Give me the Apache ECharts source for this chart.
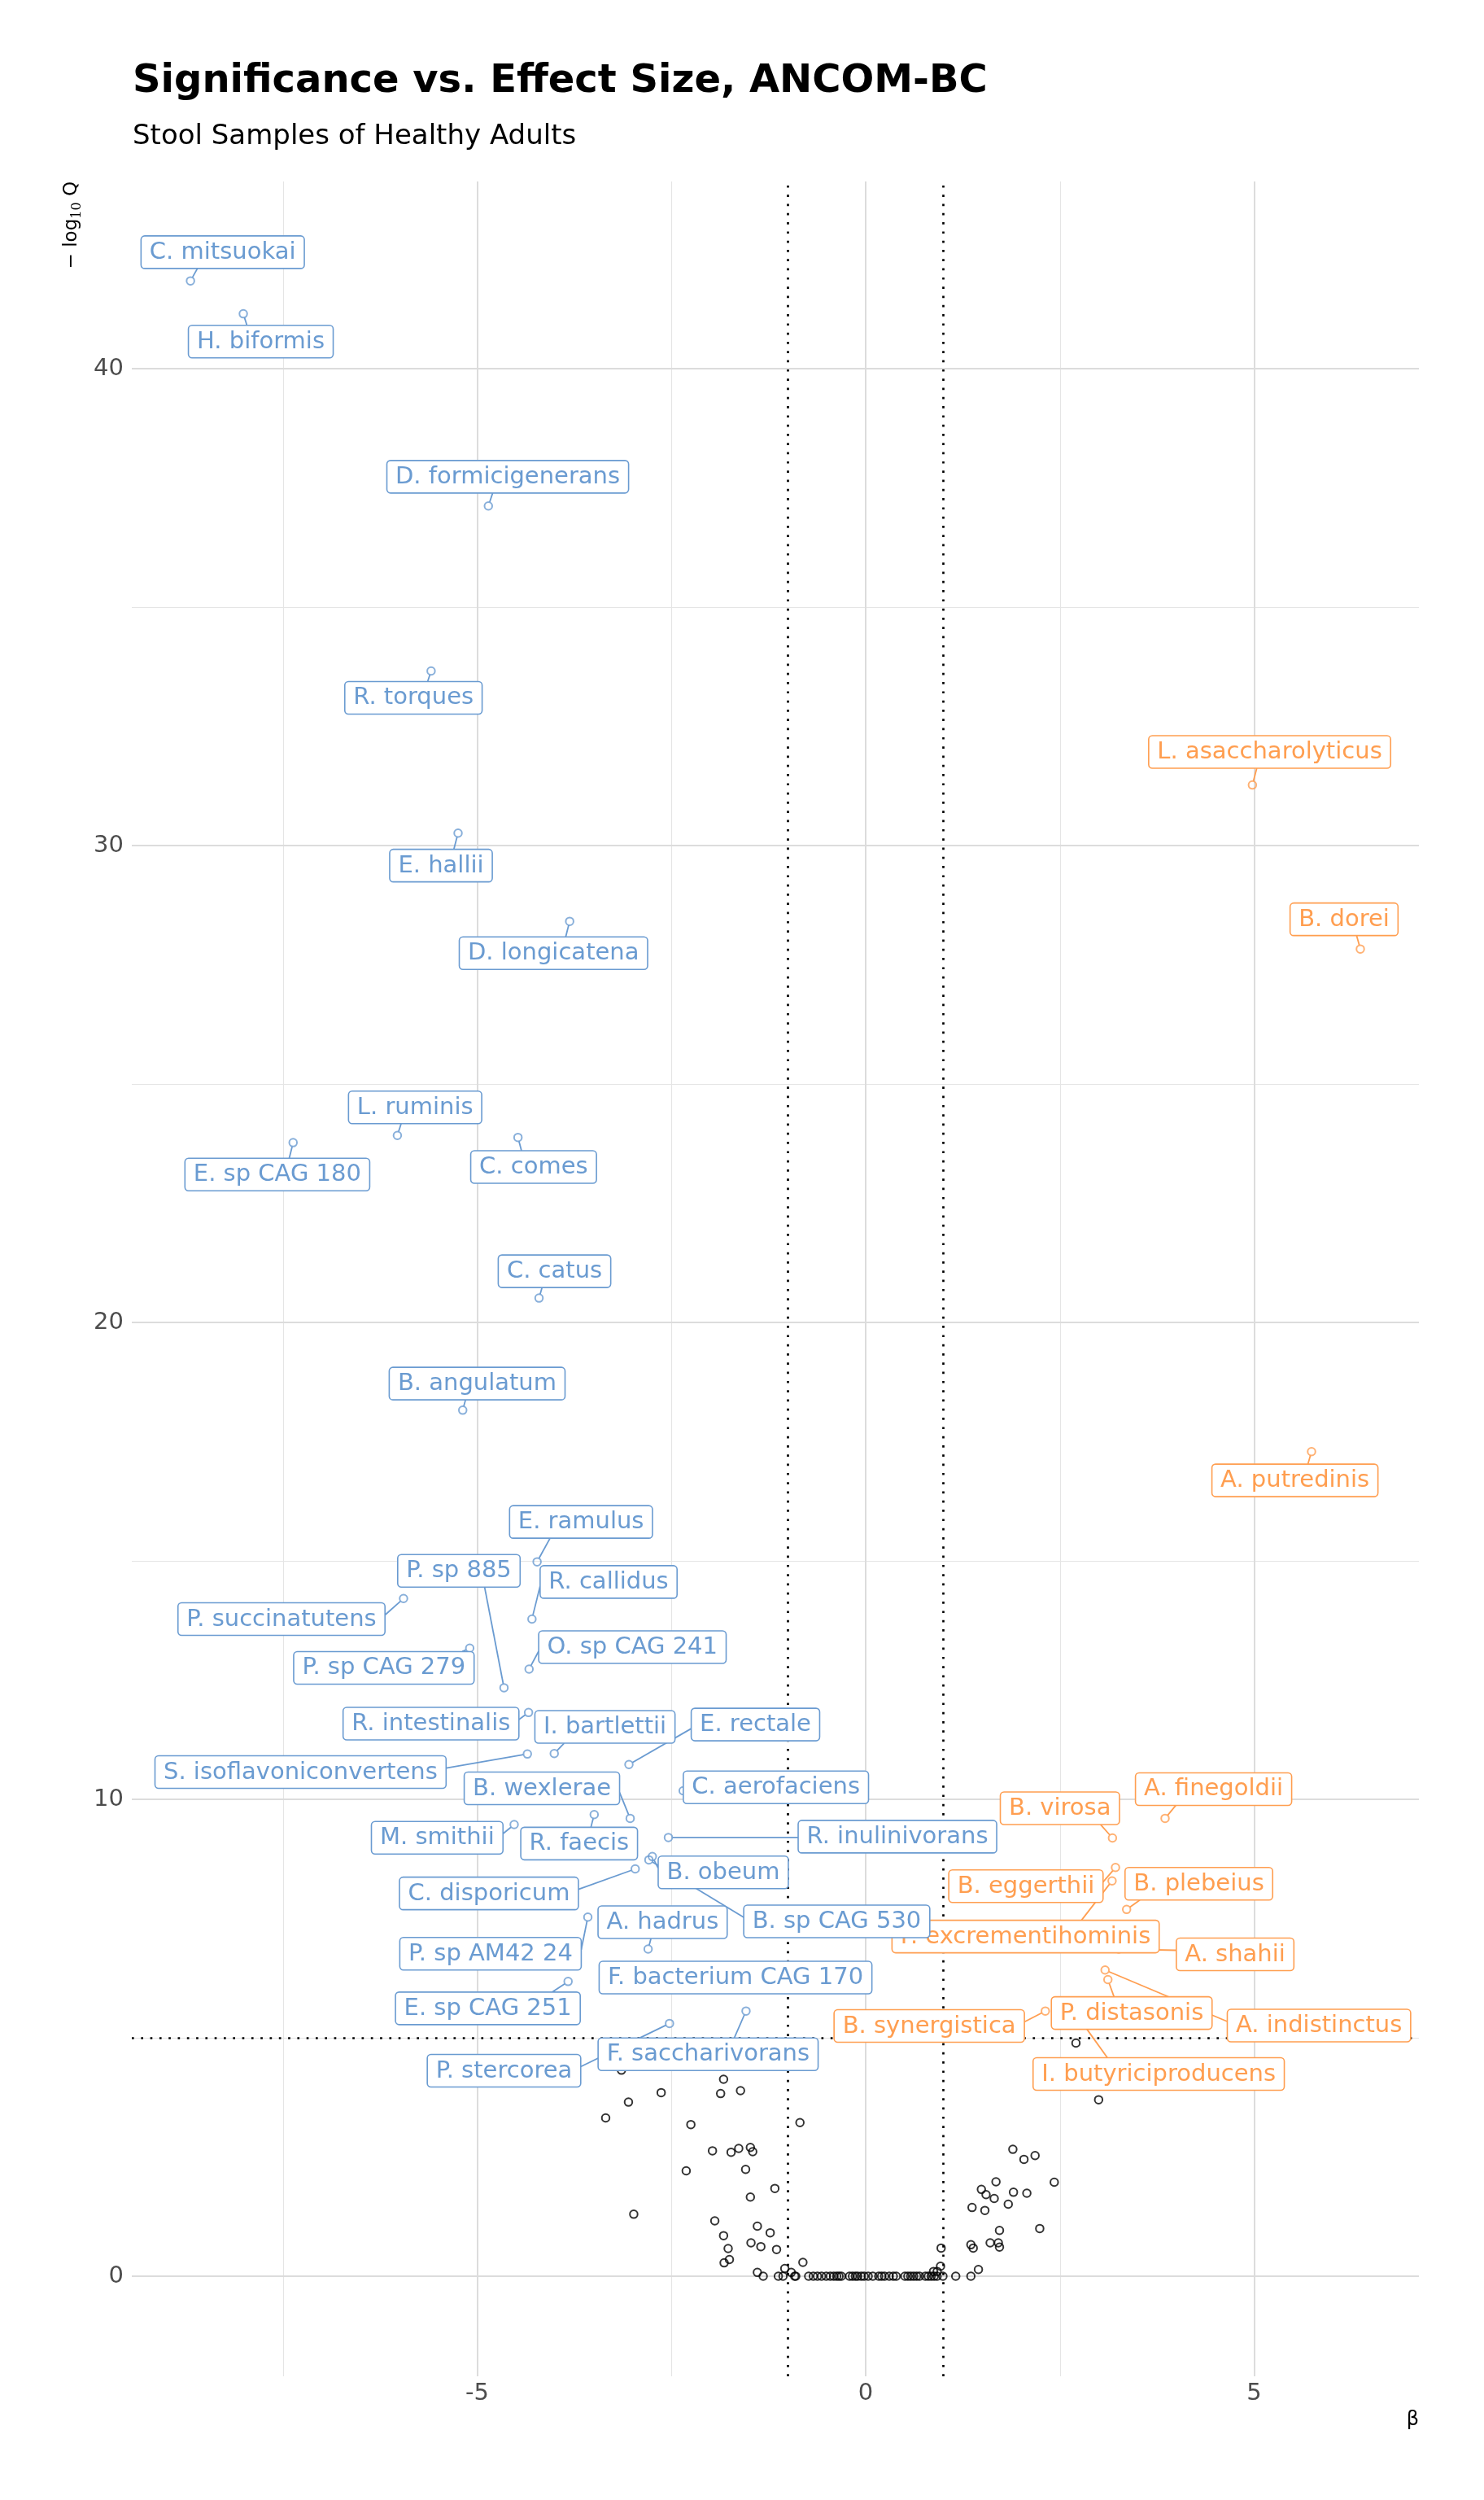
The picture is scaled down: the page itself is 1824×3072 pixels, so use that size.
<!DOCTYPE html>
<html>
<head>
<meta charset="utf-8">
<script src="https://cdn.jsdelivr.net/npm/echarts@6/dist/echarts.min.js"></script>
<style>
html,body{margin:0;padding:0;background:#fff;}
#chart{width:1824px;height:3072px;}
</style>
</head>
<body>
<div id="chart"></div>
<script>
// ---------------- data ----------------
const titleText = 'Significance vs. Effect Size, ANCOM-BC';
const subtitleText = 'Stool Samples of Healthy Adults';

const blueNames = [
  'C. mitsuokai','H. biformis','D. formicigenerans','R. torques','E. hallii',
  'D. longicatena','L. ruminis','E. sp CAG 180','C. comes','C. catus',
  'B. angulatum','E. ramulus','P. sp 885','R. callidus','P. succinatutens',
  'P. sp CAG 279','O. sp CAG 241','R. intestinalis','I. bartlettii','E. rectale',
  'S. isoflavoniconvertens','B. wexlerae','C. aerofaciens','M. smithii','R. faecis',
  'R. inulinivorans','B. obeum','B. sp CAG 530','C. disporicum','A. hadrus',
  'P. sp AM42 24','F. bacterium CAG 170','E. sp CAG 251','P. stercorea','F. saccharivorans'
];
const blueBeta = [
  -8.69, -8.01, -4.856, -5.593, -5.246,
  -3.81, -6.027, -7.369, -4.475, -4.204,
  -5.186, -4.229, -4.655, -4.295, -5.948,
  -5.096, -4.332, -4.339, -4.008, -3.047,
  -4.354, -3.031, -2.349, -4.524, -3.494,
  -2.539, -2.746, -2.79, -2.966, -2.80,
  -3.576, -2.45, -3.83, -2.525, -1.54
];
const blueNegLogQ = [
  41.84, 41.15, 37.12, 33.66, 30.26,
  28.41, 23.92, 23.77, 23.88, 20.51,
  18.16, 14.98, 12.34, 13.78, 14.21,
  13.17, 12.73, 11.82, 10.96, 10.73,
  10.95, 9.60, 10.18, 9.47, 9.68,
  9.20, 8.80, 8.73, 8.54, 6.86,
  7.53, 6.15, 6.18, 5.30, 5.56
];

const orangeNames = [
  'L. asaccharolyticus','B. dorei','A. putredinis','A. finegoldii','B. virosa',
  'B. eggerthii','F. excrementihominis','B. plebeius','A. shahii','P. distasonis',
  'A. indistinctus','B. synergistica','I. butyriciproducens'
];
const orangeBeta = [
  4.977, 6.366, 5.738, 3.853, 3.176,
  3.215, 3.171, 3.358, 3.257, 3.117,
  3.081, 2.312, 2.75
];
const orangeNegLogQ = [
  31.27, 27.83, 17.29, 9.60, 9.19,
  8.57, 8.29, 7.69, 6.86, 6.22,
  6.42, 5.56, 5.40
];

// not significant / small effect taxa
const otherBeta = [
  2.706, 2.998,
  -3.143, -1.829, -1.867, -1.611, -2.632, -3.053, -3.346, -2.25, -0.846,
  -1.972, -1.732, -1.634, -1.484, -1.454, -2.31, -1.545, -1.169, -1.484,
  -2.985, -1.942, -1.394, -1.229, -1.829, -1.476, -1.349, -1.77, -1.147,
  -1.754, -1.822, -0.808, -1.394, -1.041, -0.958,
  1.894, 2.18, 2.037, 2.427, 1.677, 1.489, 1.549, 1.902, 2.074, 1.654,
  1.369, 1.534, 1.835, 2.24, 1.722, 1.354, 1.384, 1.602, 1.707, 1.722,
  0.971, 0.963, 1.451, 0.873, 0.92,
  -1.319, -1.124, -1.064, -0.914, -0.90, -0.734, -0.674, -0.621, -0.568, -0.508,
  -0.456, -0.411, -0.373, -0.343, -0.313, -0.208, -0.170, -0.133, -0.103, -0.058,
  -0.020, 0.032, 0.092, 0.168, 0.205, 0.243, 0.303, 0.355, 0.393, 0.505,
  0.543, 0.580, 0.618, 0.656, 0.693, 0.768, 0.806, 0.843, 0.881, 0.919,
  0.994, 1.159, 1.354
];
const otherNegLogQ = [
  4.89, 3.70,
  4.32, 4.13, 3.83, 3.89, 3.85, 3.65, 3.32, 3.18, 3.22,
  2.63, 2.60, 2.68, 2.70, 2.61, 2.21, 2.24, 1.84, 1.66,
  1.30, 1.16, 1.05, 0.91, 0.85, 0.70, 0.62, 0.58, 0.56,
  0.35, 0.28, 0.29, 0.08, 0.16, 0.08,
  2.66, 2.53, 2.45, 1.97, 1.98, 1.82, 1.71, 1.76, 1.74, 1.63,
  1.44, 1.38, 1.51, 1.00, 0.96, 0.66, 0.59, 0.70, 0.70, 0.61,
  0.59, 0.21, 0.14, 0.10, 0.10,
  0, 0, 0, 0, 0, 0, 0, 0, 0, 0,
  0, 0, 0, 0, 0, 0, 0, 0, 0, 0,
  0, 0, 0, 0, 0, 0, 0, 0, 0, 0,
  0, 0, 0, 0, 0, 0, 0, 0, 0, 0,
  0, 0, 0
];

const xTicks = [-5, 0, 5];
const xMinorTicks = [-7.5, -2.5, 2.5];
const yTicks = [0, 10, 20, 30, 40];
const yMinorTicks = [5, 15, 25, 35];
const betaCutoffs = [-1, 1];
const negLogQCutoff = 5;

// ---------------- layout (label centre offsets from their points, px) ----------------
const blueLabelOffsets = [
  [39.6,-35.3],[21.5,34.2],[23.8,-35.9],[-21.7,32.9],[-21,39.9],
  [-19.9,39],[21.8,-34.6],[-19.4,39.2],[19.2,36.4],[19,-33],
  [17.7,-32.7],[54,-49],[-55.4,-143.7],[94.2,-45.6],[-150,25.2],
  [-105.5,24.2],[127,-27],[-119.9,13.6],[62.3,-32.7],[155.5,-49.1],
  [-278.8,22.2],[-108.5,-36.9],[114,-4.2],[-94.6,16.2],[-18.5,35.6],
  [281.5,-1],[87.2,19.4],[230.9,75.6],[-179.8,30.1],[17.8,-33],
  [-119.6,45],[74,-6.6],[-98.6,33],[-203.4,58.1],[-46.6,53.1]
];
const orangeLabelOffsets = [
  [21.2,-40.6],[-20,-36.5],[-20.4,35.3],[59.6,-36],[-64.6,-36.4],
  [-110.1,22.9],[-106.3,68.4],[88.8,-31.6],[143,6.5],[29.3,41.1],
  [262.9,68.2],[-142.7,18.3],[97.5,68]
];

const BLUE = '#6A9BD1';
const ORANGE = '#FF9E50';
const FONT = '"DejaVu Sans"';
const LABEL_FONT_SIZE = 29;
const PADX = 10.5;
const BOXH = 40;
const PT_R = 5;

const measureCtx = document.createElement('canvas').getContext('2d');
measureCtx.font = LABEL_FONT_SIZE + 'px ' + FONT;
function boxW(s) { return measureCtx.measureText(s).width + 2 * PADX; }

function connection(px, py, cx, cy, w, h) {
  const x1 = cx - w / 2, x2 = cx + w / 2, y1 = cy - h / 2, y2 = cy + h / 2;
  if (px >= x1 && px <= x2 && py >= y1 && py <= y2) return null;
  let ex, ey;
  if (px < x1 || px > x2) {
    ex = px < x1 ? x1 : x2;
    ey = cy + Math.max(-5, Math.min(5, py - cy));
  } else {
    ey = py < y1 ? y1 : y2;
    const t = (ey - py) / (cy - py);
    const xc = px + t * (cx - px);
    ex = (px + xc) / 2;
  }
  return [ex, ey];
}

function segmentRenderer(names, offsets, color) {
  return function (params, api) {
    const i = api.value(2);
    const p = api.coord([api.value(0), api.value(1)]);
    const cx = p[0] + offsets[i][0], cy = p[1] + offsets[i][1];
    const e = connection(p[0], p[1], cx, cy, boxW(names[i]), BOXH);
    if (!e) return null;
    const dx = e[0] - p[0], dy = e[1] - p[1];
    const d = Math.sqrt(dx * dx + dy * dy);
    if (d <= PT_R + 1) return null;
    const sx = p[0] + dx / d * PT_R, sy = p[1] + dy / d * PT_R;
    return {
      type: 'line',
      shape: { x1: sx, y1: sy, x2: e[0], y2: e[1] },
      style: { stroke: color, lineWidth: 1.8 }
    };
  };
}

function labelRenderer(names, offsets, color) {
  return function (params, api) {
    const i = api.value(2);
    const p = api.coord([api.value(0), api.value(1)]);
    const cx = p[0] + offsets[i][0], cy = p[1] + offsets[i][1];
    const w = boxW(names[i]);
    return {
      type: 'group',
      children: [
        { type: 'rect', shape: { x: cx - w / 2, y: cy - BOXH / 2, width: w, height: BOXH, r: 4.5 },
          style: { fill: '#ffffff', stroke: color, lineWidth: 1.6 } },
        { type: 'text', x: cx, y: cy + 0.5,
          style: { text: names[i], fill: color, font: LABEL_FONT_SIZE + 'px ' + FONT,
                   align: 'center', verticalAlign: 'middle' } }
      ]
    };
  };
}

function zip(xs, ys) { return xs.map((x, i) => [x, ys[i], i]); }

const blueData = zip(blueBeta, blueNegLogQ);
const orangeData = zip(orangeBeta, orangeNegLogQ);
const otherData = zip(otherBeta, otherNegLogQ);

const gridLines = [];
xMinorTicks.forEach(v => gridLines.push({ xAxis: v, lineStyle: { color: '#E5E5E5', width: 1.2, type: 'solid' } }));
yMinorTicks.forEach(v => gridLines.push({ yAxis: v, lineStyle: { color: '#E5E5E5', width: 1.2, type: 'solid' } }));
xTicks.forEach(v => gridLines.push({ xAxis: v, lineStyle: { color: '#DCDCDC', width: 2, type: 'solid' } }));
yTicks.forEach(v => gridLines.push({ yAxis: v, lineStyle: { color: '#DCDCDC', width: 2, type: 'solid' } }));

const thresholdLines = betaCutoffs.map(v => ({ xAxis: v })).concat([{ yAxis: negLogQCutoff }]);

const pointStyle = (c) => ({ color: 'rgba(0,0,0,0)', borderColor: c, borderWidth: 2 });

const option = {
  backgroundColor: '#ffffff',
  animation: false,
  textStyle: { fontFamily: FONT },
  title: [
    { text: titleText, left: 163, top: 77, padding: 0,
      textStyle: { fontSize: 48, fontWeight: 'bold', color: '#000', fontFamily: FONT } },
    { text: subtitleText, left: 163, top: 151, padding: 0,
      textStyle: { fontSize: 34, fontWeight: 'normal', color: '#000', fontFamily: FONT } }
  ],
  grid: { left: 162, right: 80, top: 223, bottom: 152, containLabel: false },
  xAxis: {
    type: 'value', min: -9.445, max: 7.12,
    axisLine: { show: false }, axisTick: { show: false }, splitLine: { show: false },
    axisLabel: { customValues: xTicks, fontSize: 29, color: '#4D4D4D', margin: 7, fontFamily: FONT,
                 showMinLabel: true, showMaxLabel: true }
  },
  yAxis: {
    type: 'value', min: -2.099, max: 43.925,
    axisLine: { show: false }, axisTick: { show: false }, splitLine: { show: false },
    axisLabel: { customValues: yTicks, fontSize: 29, color: '#4D4D4D', margin: 10, fontFamily: FONT }
  },
  graphic: [
    { type: 'text', x: 88, y: 223, rotation: Math.PI / 2,
      style: { text: '{a|\u2212 log}{s|10}{a| Q}', align: 'right', verticalAlign: 'middle',
               rich: { a: { fontSize: 23, fontFamily: FONT, fill: '#000', lineHeight: 30 },
                       s: { fontSize: 16, fontFamily: '"DejaVu Serif"', fill: '#000', lineHeight: 30, verticalAlign: 'bottom' } } } },
    { type: 'text', x: 1744, y: 2962,
      style: { text: '\u03b2', font: '24px ' + FONT, fill: '#000', align: 'right', verticalAlign: 'top' } }
  ],
  series: [
    { type: 'scatter', data: [], z: 0, silent: true,
      markLine: { z: 0, silent: true, symbol: ['none', 'none'], label: { show: false }, animation: false, data: gridLines } },
    { type: 'scatter', name: 'other', data: otherData, z: 2, symbol: 'circle', symbolSize: 9.5,
      itemStyle: pointStyle('#000000'), silent: true,
      markLine: { z: 1, silent: true, symbol: ['none', 'none'], label: { show: false }, animation: false,
                  lineStyle: { color: '#000', width: 2.7, type: [2.7, 8.6], cap: 'butt' }, data: thresholdLines } },
    { type: 'scatter', name: 'orange', data: orangeData, z: 2, symbol: 'circle', symbolSize: 9.5,
      itemStyle: pointStyle(ORANGE), silent: true },
    { type: 'scatter', name: 'blue', data: blueData, z: 2, symbol: 'circle', symbolSize: 9.5,
      itemStyle: pointStyle(BLUE), silent: true },
    { type: 'custom', data: orangeData, z: 3, clip: false, silent: true, encode: { x: 0, y: 1 },
      renderItem: segmentRenderer(orangeNames, orangeLabelOffsets, ORANGE) },
    { type: 'custom', data: blueData, z: 3, clip: false, silent: true, encode: { x: 0, y: 1 },
      renderItem: segmentRenderer(blueNames, blueLabelOffsets, BLUE) },
    { type: 'custom', data: orangeData, z: 4, clip: false, silent: true, encode: { x: 0, y: 1 },
      renderItem: labelRenderer(orangeNames, orangeLabelOffsets, ORANGE) },
    { type: 'custom', data: blueData, z: 5, clip: false, silent: true, encode: { x: 0, y: 1 },
      renderItem: labelRenderer(blueNames, blueLabelOffsets, BLUE) }
  ]
};

const chart = echarts.init(document.getElementById('chart'), null, { renderer: 'canvas', width: 1824, height: 3072 });
chart.setOption(option);
</script>
</body>
</html>
